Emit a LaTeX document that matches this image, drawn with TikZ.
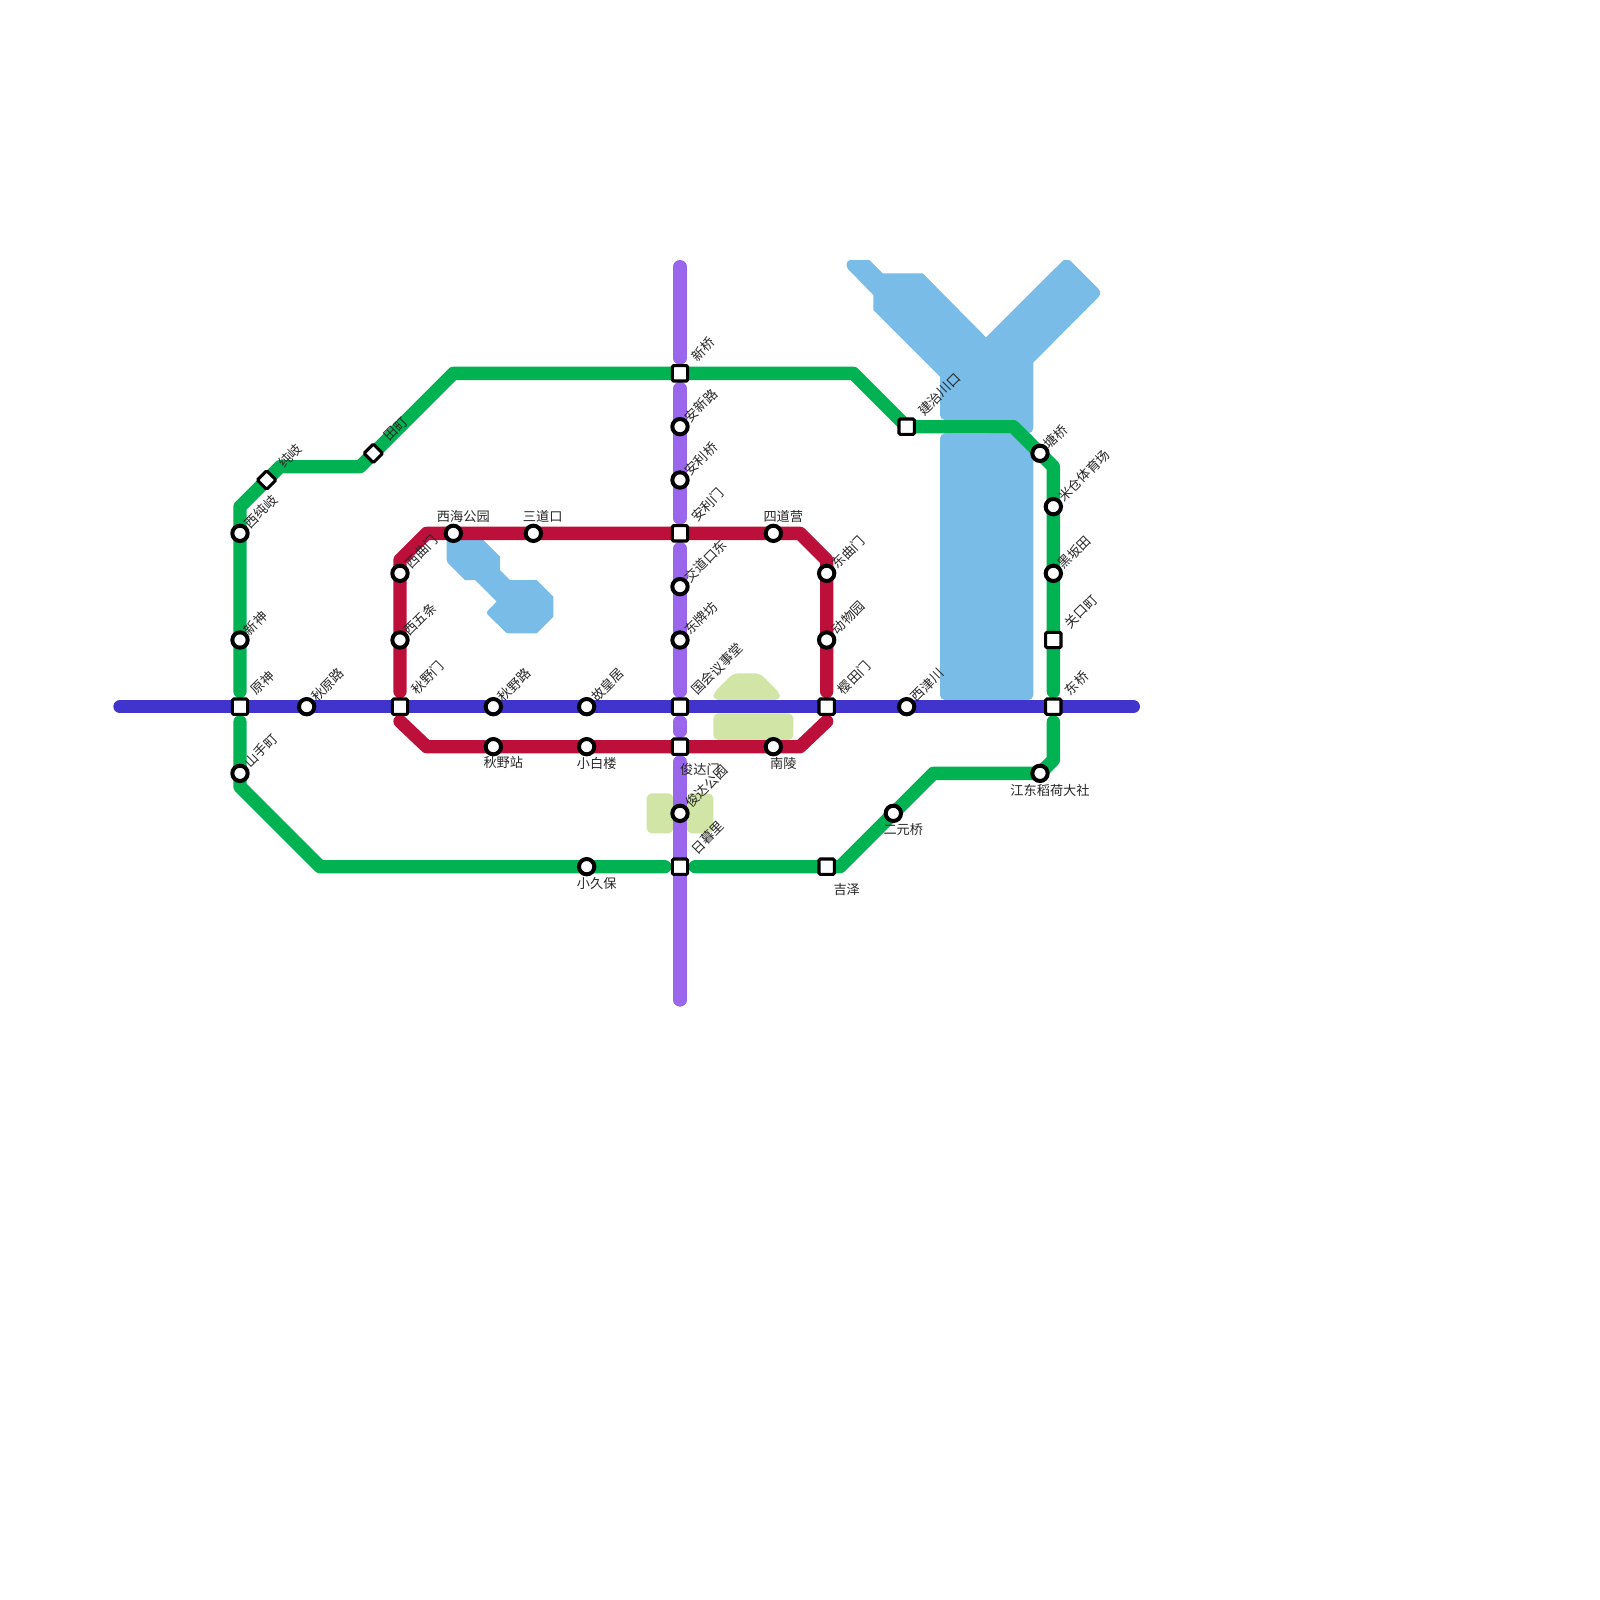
\documentclass[tikz,border=0pt]{standalone}
\usepackage{fontspec}
\setmainfont{Noto Sans CJK SC}
\usetikzlibrary{backgrounds}
\definecolor{lgreen}{RGB}{0,178,81}
\definecolor{lpurple}{RGB}{153,102,236}
\definecolor{lblue}{RGB}{64,52,204}
\definecolor{lred}{RGB}{188,16,58}
\definecolor{water}{RGB}{122,188,232}
\definecolor{park}{RGB}{209,230,166}
\newcommand\gapd{11.4pt}
\tikzset{
  sq/.style={draw=black,fill=white,line width=2.3pt,rectangle,rounded corners=1pt,minimum size=11.5pt,inner sep=0pt},
  dia/.style={sq,rotate=45,minimum size=9.9pt},
  rnd/.style={draw=black,fill=white,line width=3pt,circle,minimum size=11.5pt,inner sep=0pt},
  metro/.style={line width=10pt,line cap=round,line join=round},
  lbl/.style={inner sep=0pt,font=\fontsize{9.9pt}{11pt}\selectfont,text=black!85},
  rlbl/.style={lbl,rotate=45},
  wfill/.style={fill=water},
  pfill/.style={fill=park,rounded corners=3.75pt},
  px/.style={x=.75pt,y=-.75pt}
}
\newcommand\rl[4]{\node[rlbl] (#1) at (#2,#3) {#4};}
\newcommand\hl[4]{\node[lbl] (#1) at (#2,#3) {#4};}
\begin{document}
\begin{tikzpicture}[x=10pt,y=-10pt]
\useasboundingbox (0,0) rectangle (120,120);
% stations
\node[sq] (xinqiao) at (51,28) {};
\node[rnd] (anxin) at (51,32) {};
\node[rnd] (anliq) at (51,36) {};
\node[sq] (anlim) at (51,40) {};
\node[rnd] (jiaodao) at (51,44) {};
\node[rnd] (dongpai) at (51,48) {};
\node[sq] (guohui) at (51,53) {};
\node[sq] (junda) at (51,56) {};
\node[rnd] (jundap) at (51,61) {};
\node[sq] (rimu) at (51,65) {};
\node[rnd] (xihai) at (34,40) {};
\node[rnd] (sandao) at (40,40) {};
\node[rnd] (sidao) at (58,40) {};
\node[rnd] (dongqu) at (62,43) {};
\node[rnd] (dongwu) at (62,48) {};
\node[sq] (yingtian) at (62,53) {};
\node[rnd] (nanling) at (58,56) {};
\node[rnd] (xiaobai) at (44,56) {};
\node[rnd] (qiuyez) at (37,56) {};
\node[sq] (qiuyem) at (30,53) {};
\node[rnd] (xiwu) at (30,48) {};
\node[rnd] (xiqu) at (30,43) {};
\node[sq] (yuan) at (18,53) {};
\node[rnd] (qiuyuan) at (23,53) {};
\node[rnd] (qiuyel) at (37,53) {};
\node[rnd] (guhuang) at (44,53) {};
\node[rnd] (xijin) at (68,53) {};
\node[sq] (dongq) at (79,53) {};
\node[rnd] (jiangdong) at (78,58) {};
\node[rnd] (eryuan) at (67,61) {};
\node[sq] (jize) at (62,65) {};
\node[rnd] (xiaojiu) at (44,65) {};
\node[rnd] (shanshou) at (18,58) {};
\node[rnd] (xinshen) at (18,48) {};
\node[rnd] (xichun) at (18,40) {};
\node[dia] (chunqi) at (20,36) {};
\node[dia] (tianting) at (28,34) {};
\node[sq] (jianzhi) at (68,32) {};
\node[rnd] (tangqiao) at (78,34) {};
\node[rnd] (micang) at (79,38) {};
\node[rnd] (heiban) at (79,43) {};
\node[sq] (guankou) at (79,48) {};
% line ends and bends
\coordinate (ptop) at (51,20);
\coordinate (pbot) at (51,75);
\coordinate (bw) at (9,53);
\coordinate (be) at (85,53);
\coordinate (r1) at (32,40);
\coordinate (r2) at (60,40);
\coordinate (r3) at (62,42);
\coordinate (r4) at (62,54.1);
\coordinate (r5) at (60,56);
\coordinate (r6) at (32,56);
\coordinate (r7) at (30,54.1);
\coordinate (r8) at (30,42);
\coordinate (g1) at (79,57);
\coordinate (g2) at (70,58);
\coordinate (g3) at (63,65);
\coordinate (g4) at (24,65);
\coordinate (g5) at (18,59);
\coordinate (g6) at (18,38);
\coordinate (g7) at (21,35);
\coordinate (g8) at (27,35);
\coordinate (g9) at (34,28);
\coordinate (g10) at (64,28);
\coordinate (g11) at (76,32);
\coordinate (g12) at (79,35);
\begin{scope}[on background layer]
  % water and parks
  \begin{scope}[px]
    \fill[wfill] (850,260) -- (869.3,260) -- (882.7,273.3) -- (922.7,273.3) -- (986,337.3) -- (1062,261.5) -- (1064,260) -- (1069,260) -- (1071,261.5) -- (1098.5,289) -- (1100,291.5) -- (1100,294.5) -- (1098.5,297) -- (1033.33,362.5) -- (1033.33,428) -- (1031.8,431.8) -- (1028,433.33) -- (990,433.33) -- (990,420) -- (945,420) -- (941.5,418.5) -- (940,415) -- (940,376.7) -- (873.3,310) -- (873.3,295) -- (848,269) -- (846.67,266) -- (846.67,263.5) -- (848,261) -- cycle;
    \fill[wfill,rounded corners=3.75pt] (940,433.33) rectangle (1033.33,700);
    \fill[wfill] (446.67,536) -- (483.33,536) -- (483.33,540) -- (500,556.67) -- (500,570) -- (510,580) -- (536.67,580) -- (553.33,596.67) -- (553.33,616.67) -- (536.67,633.33) -- (508,633.33) -- (506,632.5) -- (488,615) -- (486.67,612.5) -- (488,610.5) -- (496.67,601.5) -- (475,580) -- (465,580) -- (447.5,562.5) -- (446.67,560) -- cycle;
    \fill[pfill] (713.33,693.33) -- (733.33,673.33) -- (760,673.33) -- (780,693.33) -- (780,700) -- (713.33,700) -- cycle;
    \fill[pfill] (713.33,713.33) rectangle (793.33,740);
    \fill[pfill] (646.67,793.33) rectangle (673.33,833.33);
    \fill[pfill] (686.67,793.33) rectangle (713.33,833.33);
  \end{scope}
  % purple line
  \draw[metro,lpurple] (ptop) -- ([yshift=\gapd]xinqiao.center);
  \draw[metro,lpurple] ([yshift=-\gapd]xinqiao.center) -- (anxin.center) -- (anliq.center) -- ([yshift=\gapd]anlim.center);
  \draw[metro,lpurple] ([yshift=-\gapd]anlim.center) -- (jiaodao.center) -- (dongpai.center) -- ([yshift=\gapd]guohui.center);
  \draw[metro,lpurple] ([yshift=-\gapd]guohui.center) -- ([yshift=\gapd]junda.center);
  \draw[metro,lpurple] ([yshift=-\gapd]junda.center) -- (jundap.center) -- (rimu.center) -- (pbot);
  % green line
  \draw[metro,lgreen] ([yshift=-\gapd]dongq.center) -- (g1) -- (jiangdong.center) -- (g2) -- (eryuan.center) -- (g3) -- (jize.center) -- ([xshift=\gapd]rimu.center);
  \draw[metro,lgreen] ([xshift=-\gapd]rimu.center) -- (xiaojiu.center) -- (g4) -- (g5) -- (shanshou.center) -- ([yshift=-\gapd]yuan.center);
  \draw[metro,lgreen] ([yshift=\gapd]yuan.center) -- (xinshen.center) -- (xichun.center) -- (g6) -- (chunqi.center) -- (g7) -- (g8) -- (tianting.center) -- (g9) -- (xinqiao.center) -- (g10) -- (jianzhi.center) -- (g11) -- (tangqiao.center) -- (g12) -- (micang.center) -- (heiban.center) -- (guankou.center) -- ([yshift=\gapd]dongq.center);
  % red line
  \draw[metro,lred] ([yshift=\gapd]qiuyem.center) -- (xiwu.center) -- (xiqu.center) -- (r8) -- (r1) -- (xihai.center) -- (sandao.center) -- (anlim.center) -- (sidao.center) -- (r2) -- (r3) -- (dongqu.center) -- (dongwu.center) -- ([yshift=\gapd]yingtian.center);
  \draw[metro,lred] (r4) -- (r5) -- (nanling.center) -- (junda.center) -- (xiaobai.center) -- (qiuyez.center) -- (r6) -- (r7);
  % blue line
  \draw[metro,lblue] (bw) -- (yuan.center) -- (qiuyuan.center) -- (qiuyem.center) -- (qiuyel.center) -- (guhuang.center) -- (guohui.center) -- (yingtian.center) -- (xijin.center) -- (dongq.center) -- (be);
\end{scope}
% labels
\begin{scope}[px]
  \rl{l01}{396}{429.3}{田町}
  \rl{l02}{290}{456}{纯岐}
  \rl{l03}{261}{511.7}{西纯岐}
  \rl{l04}{421.7}{551.7}{西曲门}
  \rl{l05}{420}{619.3}{西五条}
  \rl{l06}{255.7}{623.3}{新神}
  \rl{l07}{262.7}{682.7}{原神}
  \rl{l08}{327.7}{685}{秋原路}
  \rl{l09}{427.7}{677.7}{秋野门}
  \rl{l10}{514.3}{685}{秋野路}
  \rl{l11}{607.7}{685}{故皇居}
  \rl{l12}{261}{750.7}{山手町}
  \hl{l13}{463.3}{516}{西海公园}
  \hl{l14}{542.7}{516}{三道口}
  \hl{l15}{503.3}{762.7}{秋野站}
  \hl{l16}{596.7}{763.3}{小白楼}
  \hl{l17}{596.7}{883.3}{小久保}
  \rl{l18}{703.3}{349.3}{新桥}
  \rl{l19}{701}{405.7}{安新路}
  \rl{l20}{701}{459}{安利桥}
  \rl{l21}{707.7}{505}{安利门}
  \hl{l22}{783.3}{516}{四道营}
  \rl{l23}{705.7}{561}{交道口东}
  \rl{l24}{701}{618.3}{东牌坊}
  \rl{l25}{717.3}{669}{国会议事堂}
  \rl{l26}{848.3}{552.3}{东曲门}
  \rl{l27}{848.3}{617.7}{动物园}
  \rl{l28}{854.3}{677.7}{樱田门}
  \rl{l29}{927.3}{685}{西津川}
  \rl{l30}{939.3}{394.3}{建治川口}
  \rl{l31}{1055.7}{436.7}{塘桥}
  \rl{l32}{1084}{475.7}{米仓体育场}
  \rl{l33}{1074.3}{552.3}{黑坂田}
  \rl{l34}{1081}{611.7}{关口町}
  \rl{l35}{1076.7}{683.3}{东桥}
  \hl{l36}{700}{769.3}{俊达门}
  \rl{l37}{706.7}{786.7}{俊达公园}
  \rl{l38}{707.7}{837.7}{日暮里}
  \hl{l39}{783.3}{763.3}{南陵}
  \hl{l40}{903.3}{830}{二元桥}
  \hl{l41}{1050}{790}{江东稻荷大社}
  \hl{l42}{846.7}{889.3}{吉泽}
\end{scope}
\end{tikzpicture}
\end{document}
